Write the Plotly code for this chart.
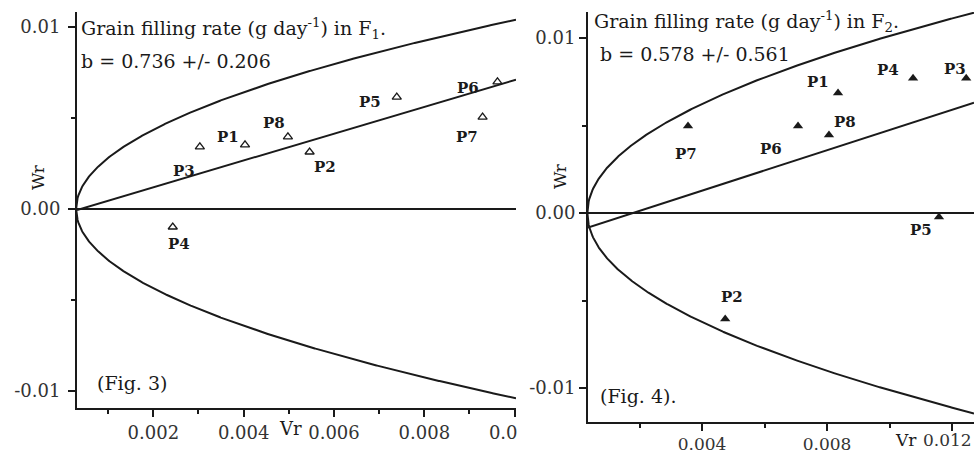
import numpy as np
import plotly.graph_objects as go

# ---- data -----------------------------------------------------------------
parents = ["P1", "P2", "P3", "P4", "P5", "P6", "P7", "P8"]

# F1 generation: variance (Vr) and covariance (Wr) of the arrays
f1_vr = [0.00403, 0.00546, 0.00303, 0.00243, 0.00739, 0.00962, 0.00929, 0.00498]
f1_wr = [0.00352, 0.00313, 0.00341, -0.00099, 0.00615, 0.00698, 0.00505, 0.00396]

# F2 generation
f2_vr = [0.00835, 0.00474, 0.01245, 0.01075, 0.01158, 0.00707, 0.00355, 0.00806]
f2_wr = [0.00686, -0.00606, 0.00771, 0.00771, -0.00023, 0.00497, 0.00497, 0.00446]

# regression Wr = a + b*Vr
f1_b, f1_a = 0.736, -0.00028
f2_b, f2_a = 0.578, -0.00103

# limiting parabola Wr^2 = Vp*(Vr - v0)
f1_vp, f1_v0 = 0.0111, 0.00029
f2_vp, f2_v0 = 0.0106, 0.00033

f1_xrange = [0.00031, 0.01003]
f1_yrange = [-0.01093, 0.01082]
f2_xrange = [0.00035, 0.0127]
f2_yrange = [-0.01194, 0.01149]

f1_ticks = [0.002, 0.004, 0.006, 0.008, 0.010]
f1_ticktext = ["0.002", "0.004", "0.006", "0.008", "0.0\u00a0\u00a0\u00a0\u00a0"]
f2_ticks = [0.004, 0.008, 0.012]
f2_ticktext = ["0.004", "0.008", ""]
f2_last_label = "0.012"
wr_ticks = [-0.01, 0.0, 0.01]
wr_ticktext = ["-0.01", "0.00", "0.01"]

W, H = 974, 453
FONT = "DejaVu Serif"
INK = "#1a1a1a"


def px(x):
    return x / W


def py(y):
    return 1 - y / H


fig = go.Figure()


def add_panel(xa, ya, vr, wr, b, a, vp, v0, xr, marker):
    xs = np.linspace(v0, xr[1], 600)
    root = np.sqrt(np.clip(vp * (xs - v0), 0, None))
    for sign in (1, -1):
        fig.add_trace(go.Scatter(x=xs, y=sign * root, mode="lines",
                                 line=dict(color=INK, width=2),
                                 xaxis=xa, yaxis=ya, showlegend=False,
                                 hoverinfo="skip"))
    lx = np.array(xr)
    fig.add_trace(go.Scatter(x=lx, y=a + b * lx, mode="lines",
                             line=dict(color=INK, width=2),
                             xaxis=xa, yaxis=ya, showlegend=False,
                             hoverinfo="skip"))
    fig.add_trace(go.Scatter(x=vr, y=wr, mode="markers",
                             marker=marker, xaxis=xa, yaxis=ya,
                             showlegend=False))


add_panel("x", "y", f1_vr, f1_wr, f1_b, f1_a, f1_vp, f1_v0, f1_xrange,
          dict(symbol="triangle-up-open", size=8, color=INK,
               line=dict(width=1.3, color=INK)))
add_panel("x2", "y2", f2_vr, f2_wr, f2_b, f2_a, f2_vp, f2_v0, f2_xrange,
          dict(symbol="triangle-up", size=9, color=INK))

axis_common = dict(showline=True, linewidth=2, linecolor=INK, mirror=False,
                   ticks="outside", ticklen=7, tickwidth=2, tickcolor=INK,
                   showgrid=False, zeroline=False, automargin=False,
                   tickfont=dict(family=FONT, size=18, color="#333"))
y_common = {**axis_common, "zeroline": True, "zerolinecolor": INK,
            "zerolinewidth": 2}
x2_common = {**axis_common,
             "tickfont": dict(family=FONT, size=17, color="#333")}
minor_style = dict(ticklen=4, tickwidth=2, tickcolor=INK)

fig.update_layout(
    width=W, height=H, autosize=False,
    margin=dict(l=0, r=0, t=0, b=0, autoexpand=False),
    paper_bgcolor="white", plot_bgcolor="white",
    xaxis=dict(domain=[px(77), px(516)], range=f1_xrange, anchor="y",
               tickmode="array", tickvals=f1_ticks, ticktext=f1_ticktext,
               minor=dict(tickvals=[0.001, 0.003, 0.005, 0.007, 0.009],
                          **minor_style),
               **axis_common),
    yaxis=dict(domain=[py(408), py(12)], range=f1_yrange, anchor="x",
               tickmode="array", tickvals=wr_ticks, ticktext=wr_ticktext,
               ticklabelstandoff=4,
               minor=dict(tickvals=[-0.005, 0.005], **minor_style),
               **y_common),
    xaxis2=dict(domain=[px(588), 1.0], range=f2_xrange, anchor="y2",
                tickmode="array", tickvals=f2_ticks, ticktext=f2_ticktext,
                ticklabelstandoff=-1,
                minor=dict(tickvals=[0.002, 0.006, 0.010], **minor_style),
                **x2_common),
    yaxis2=dict(domain=[py(422), py(12)], range=f2_yrange, anchor="x2",
                tickmode="array", tickvals=wr_ticks, ticktext=wr_ticktext,
                minor=dict(tickvals=[-0.005, 0.005], **minor_style),
                **y_common),
)

ann = []


def text(x, y, s, size=16, anchor="left", angle=0, color=INK):
    ann.append(dict(x=px(x), y=py(y), xref="paper", yref="paper", text=s,
                    showarrow=False, xanchor=anchor, yanchor="middle",
                    textangle=angle,
                    font=dict(family=FONT, size=size, color=color)))


# panel texts
text(79, 29, "Grain filling rate (g day<sup>-1</sup>) in F<sub>1</sub>.", 19)
text(79, 61, "b = 0.736 +/- 0.206", 19)
text(95, 383, "(Fig. 3)", 19)
text(38, 177, "Wr", size=17, anchor="center", angle=-90)
text(290, 428, "Vr", size=18, anchor="center")

text(592, 21, "Grain filling rate (g day<sup>-1</sup>) in F<sub>2</sub>.", 19)
text(598, 54, "b = 0.578 +/- 0.561", 19)
text(598, 396, "(Fig. 4).", 19)
text(560, 176, "Wr", size=17, anchor="center", angle=-90)
text(906, 440, "Vr", size=17, anchor="center")
# last tick label of the F2 axis sits flush with the right edge
text(974, 440, f2_last_label, size=17, anchor="right", color="#333")

# parent labels, offsets in pixels from each marker (dx right, dy down)
f1_offsets = {"P1": (-17, -8), "P2": (15, 15), "P3": (-16, 24),
              "P4": (6, 17), "P5": (-27, 5), "P6": (-29, 6),
              "P7": (-16, 20), "P8": (-14, -14)}
f2_offsets = {"P1": (-20, -11), "P2": (7, -22), "P3": (-11, -9),
              "P4": (-25, -8), "P5": (-18, 13), "P6": (-27, 23),
              "P7": (-2, 28), "P8": (16, -13)}

for xr_, yr_, vr, wr, offs in (("x", "y", f1_vr, f1_wr, f1_offsets),
                               ("x2", "y2", f2_vr, f2_wr, f2_offsets)):
    for name, v, w in zip(parents, vr, wr):
        dx, dy = offs[name]
        ann.append(dict(x=v, y=w, xref=xr_, yref=yr_, text=name,
                        showarrow=False, xshift=dx, yshift=-dy,
                        font=dict(family=FONT, size=15, color=INK,
                                  weight="bold")))

fig.update_layout(annotations=ann)
fig.write_html("out.html")
